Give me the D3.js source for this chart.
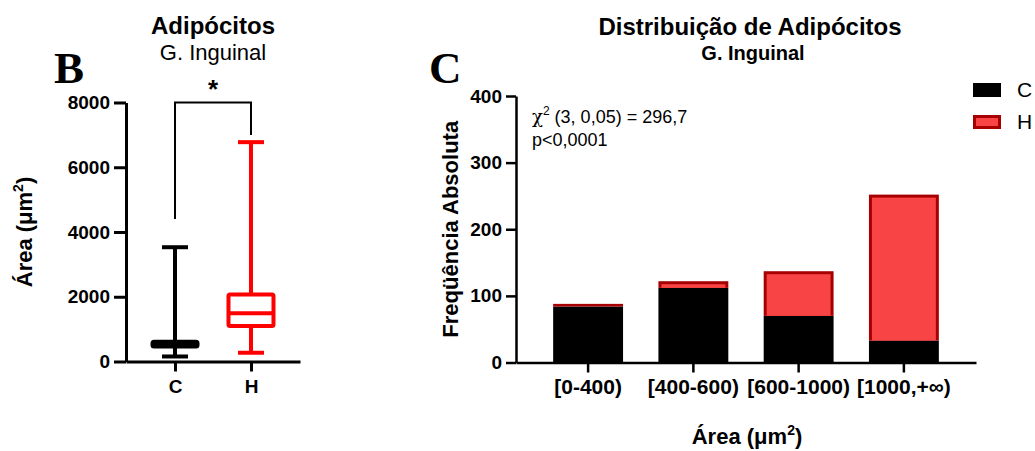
<!DOCTYPE html>
<html>
<head>
<meta charset="utf-8">
<script src="https://cdn.jsdelivr.net/npm/d3@7"></script>
<style>
  html, body { margin: 0; padding: 0; background: #fff; }
  svg { display: block; }
  text { font-family: "Liberation Sans", Arial, sans-serif; fill: #000; }
</style>
</head>
<body>
<div id="chart"></div>
<script>
// Panel B - box plot values (area, µm²)
const boxGroups = ['C', 'H'];
const boxMin = [155, 270];
const boxQ1 = [463, 1100];
const boxMedian = [535, 1490];
const boxQ3 = [608, 2070];
const boxMax = [3530, 6775];
const boxYTicks = [0, 2000, 4000, 6000, 8000];

// Panel C - stacked histogram
const binLabels = ['[0-400)', '[400-600)', '[600-1000)', '[1000,+\u221E)'];
const countC = [84, 112, 70, 33];
const countH = [4, 10, 67, 219];
const freqYTicks = [0, 100, 200, 300, 400];

const width = 1035;
const height = 451;

const svg = d3.select('#chart')
  .append('svg')
  .attr('width', width)
  .attr('height', height);

// ---------- Panel B ----------
const bx = d3.scalePoint().domain(boxGroups).range([126, 300]).padding(0.645);
const by = d3.scaleLinear().domain([0, 8000]).range([361.5, 102.5]);
const boxColor = d3.scaleOrdinal().domain(boxGroups).range(['#000000', '#ff0000']);

const gB = svg.append('g');

// y axis
const yAxisB = gB.append('g')
  .attr('transform', 'translate(126,0)')
  .call(d3.axisLeft(by).tickValues(boxYTicks).tickFormat(d3.format('d'))
    .tickSize(12).tickSizeOuter(0).tickPadding(4));
yAxisB.select('.domain').attr('stroke-width', 3);
yAxisB.selectAll('.tick line').attr('stroke-width', 3);
yAxisB.selectAll('.tick text')
  .style('font-size', '19px').style('font-weight', 'bold');

// x axis
const xAxisB = gB.append('g')
  .attr('transform', `translate(0,${by(0)})`)
  .call(d3.axisBottom(bx).tickSize(10).tickSizeOuter(0).tickPadding(8));
xAxisB.select('.domain').attr('stroke-width', 3);
xAxisB.selectAll('.tick line').attr('stroke-width', 3);
xAxisB.selectAll('.tick text')
  .style('font-size', '19px').style('font-weight', 'bold');

const boxW = 45;
const capW = 26;
boxGroups.forEach((g, i) => {
  const cx = bx(g);
  const col = boxColor(g);
  const grp = gB.append('g')
    .attr('stroke', col)
    .attr('stroke-width', 4)
    .attr('fill', 'none');
  // whiskers
  grp.append('line').attr('x1', cx).attr('x2', cx).attr('y1', by(boxMax[i])).attr('y2', by(boxQ3[i]));
  grp.append('line').attr('x1', cx).attr('x2', cx).attr('y1', by(boxQ1[i])).attr('y2', by(boxMin[i]));
  // caps
  grp.append('line').attr('x1', cx - capW / 2).attr('x2', cx + capW / 2).attr('y1', by(boxMax[i])).attr('y2', by(boxMax[i]));
  grp.append('line').attr('x1', cx - capW / 2).attr('x2', cx + capW / 2).attr('y1', by(boxMin[i])).attr('y2', by(boxMin[i]));
  // box
  grp.append('rect')
    .attr('x', cx - boxW / 2)
    .attr('y', by(boxQ3[i]))
    .attr('width', boxW)
    .attr('height', by(boxQ1[i]) - by(boxQ3[i]))
    .attr('rx', 1.5)
    .attr('fill', '#fff');
  grp.append('line').attr('x1', cx - boxW / 2).attr('x2', cx + boxW / 2).attr('y1', by(boxMedian[i])).attr('y2', by(boxMedian[i]));
});

// significance bracket
gB.append('path')
  .attr('d', `M${bx('C')},${by(4400)}V${by(8000)}H${bx('H')}V${by(7000)}`)
  .attr('fill', 'none')
  .attr('stroke', '#000')
  .attr('stroke-width', 2);
gB.append('text')
  .attr('x', (bx('C') + bx('H')) / 2)
  .attr('y', 98)
  .attr('text-anchor', 'middle')
  .style('font-size', '26px').style('font-weight', 'bold')
  .text('*');

// titles
gB.append('text').attr('x', 213).attr('y', 34).attr('text-anchor', 'middle')
  .style('font-size', '24px').style('font-weight', 'bold').text('Adipócitos');
gB.append('text').attr('x', 213).attr('y', 60).attr('text-anchor', 'middle')
  .style('font-size', '22px').text('G. Inguinal');
gB.append('text').attr('x', 54).attr('y', 83)
  .style('font-family', '"Liberation Serif", "Times New Roman", serif')
  .style('font-size', '45px').style('font-weight', 'bold').text('B');

// y label
const yLabB = gB.append('text')
  .attr('transform', `translate(32,${(by(0) + by(8000)) / 2}) rotate(-90)`)
  .attr('text-anchor', 'middle')
  .style('font-size', '22px').style('font-weight', 'bold');
yLabB.append('tspan').text('Área (μm');
yLabB.append('tspan').attr('dy', -9).style('font-size', '14px').text('2');
yLabB.append('tspan').attr('dy', 9).text(')');

// ---------- Panel C ----------
const cx = d3.scaleBand().domain(binLabels).range([516, 976]).paddingInner(0.336).paddingOuter(0.353);
const cy = d3.scaleLinear().domain([0, 400]).range([362.5, 96]);

const gC = svg.append('g');

const stackData = binLabels.map((b, i) => ({ bin: b, C: countC[i], H: countH[i] }));
const stacked = d3.stack().keys(['C', 'H'])(stackData);

// black C bars
gC.append('g').selectAll('rect')
  .data(stacked[0])
  .enter()
  .append('rect')
  .attr('x', d => cx(d.data.bin))
  .attr('y', d => cy(d[1]))
  .attr('width', cx.bandwidth())
  .attr('height', d => cy(d[0]) - cy(d[1]))
  .attr('fill', '#000');

// red H bars with dark red border
const hSeg = gC.append('g').selectAll('g')
  .data(stacked[1])
  .enter()
  .append('g');
hSeg.append('rect')
  .attr('x', d => cx(d.data.bin))
  .attr('y', d => cy(d[1]))
  .attr('width', cx.bandwidth())
  .attr('height', d => cy(d[0]) - cy(d[1]))
  .attr('fill', '#a80000');
const bw = 3;
hSeg.append('rect')
  .attr('x', d => cx(d.data.bin) + bw)
  .attr('y', d => cy(d[1]) + bw)
  .attr('width', cx.bandwidth() - 2 * bw)
  .attr('height', d => Math.max(0, cy(d[0]) - cy(d[1]) - bw))
  .attr('fill', '#f84444');

// axes
const yAxisC = gC.append('g')
  .attr('transform', 'translate(516,0)')
  .call(d3.axisLeft(cy).tickValues(freqYTicks).tickSize(10).tickSizeOuter(0).tickPadding(4));
yAxisC.select('.domain').attr('stroke-width', 2.5);
yAxisC.selectAll('.tick line').attr('stroke-width', 2.5);
yAxisC.selectAll('.tick text')
  .style('font-size', '19px').style('font-weight', 'bold');

const xAxisC = gC.append('g')
  .attr('transform', `translate(0,${cy(0)})`)
  .call(d3.axisBottom(cx).tickSize(10).tickSizeOuter(0).tickPadding(7));
xAxisC.select('.domain').attr('stroke-width', 2.5);
xAxisC.selectAll('.tick line').attr('stroke-width', 2.5);
xAxisC.selectAll('.tick text')
  .style('font-size', '21px').style('font-weight', 'bold');

// titles
gC.append('text').attr('x', 750).attr('y', 35).attr('text-anchor', 'middle')
  .style('font-size', '24px').style('font-weight', 'bold').text('Distribuição de Adipócitos');
gC.append('text').attr('x', 753).attr('y', 60).attr('text-anchor', 'middle')
  .style('font-size', '20px').style('font-weight', 'bold').text('G. Inguinal');
gC.append('text').attr('x', 429).attr('y', 83)
  .style('font-family', '"Liberation Serif", "Times New Roman", serif')
  .style('font-size', '45px').style('font-weight', 'bold').text('C');

// y label
gC.append('text')
  .attr('transform', `translate(458,${(cy(0) + cy(400)) / 2}) rotate(-90)`)
  .attr('text-anchor', 'middle')
  .style('font-size', '22px').style('font-weight', 'bold')
  .text('Freqüência Absoluta');

// x label
const xLabC = gC.append('text')
  .attr('x', 747).attr('y', 444)
  .attr('text-anchor', 'middle')
  .style('font-size', '22px').style('font-weight', 'bold');
xLabC.append('tspan').text('Área (μm');
xLabC.append('tspan').attr('dy', -9).style('font-size', '14px').text('2');
xLabC.append('tspan').attr('dy', 9).text(')');

// chi-square annotation
const chi = gC.append('text').attr('x', 532).attr('y', 123).style('font-size', '18px');
chi.append('tspan').style('font-family', '"DejaVu Serif", serif').text('χ');
chi.append('tspan').attr('dy', -8).style('font-size', '12px').text('2');
chi.append('tspan').attr('dy', 8).text(' (3, 0,05) = 296,7');
gC.append('text').attr('x', 532).attr('y', 146).style('font-size', '18px').text('p<0,0001');

// legend
const legendKeys = ['C', 'H'];
const legend = gC.selectAll('.legend')
  .data(legendKeys)
  .enter()
  .append('g')
  .attr('class', 'legend')
  .attr('transform', (d, i) => `translate(973, ${83 + i * 32})`);
legend.append('rect')
  .attr('x', d => d === 'H' ? 1.5 : 0)
  .attr('y', d => d === 'H' ? 1.5 : 0)
  .attr('width', d => d === 'H' ? 25 : 28)
  .attr('height', d => d === 'H' ? 11 : 14)
  .attr('fill', d => d === 'H' ? '#f84444' : '#000')
  .attr('stroke', d => d === 'H' ? '#a80000' : 'none')
  .attr('stroke-width', 3);
legend.append('text')
  .attr('x', 44)
  .attr('y', 14)
  .style('font-size', '21px')
  .text(d => d);
</script>
</body>
</html>
